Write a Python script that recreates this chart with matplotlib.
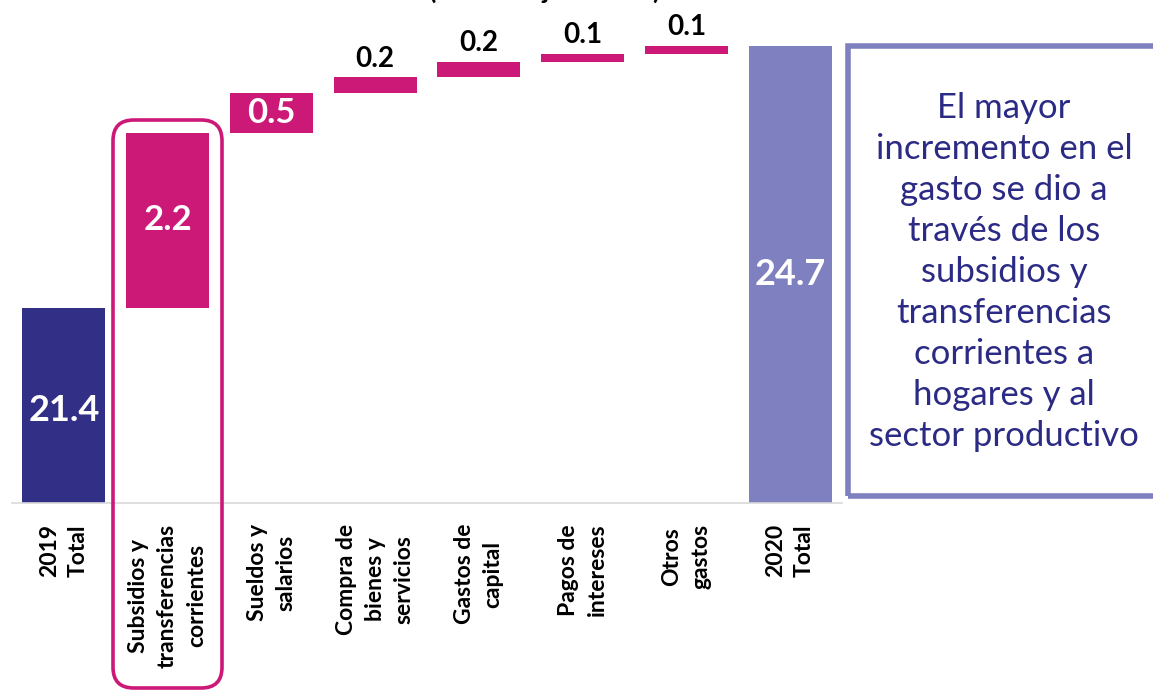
import matplotlib
matplotlib.use("Agg")
import matplotlib.pyplot as plt
from matplotlib.patches import FancyBboxPatch, Rectangle
import numpy as np

plt.rcParams['font.family'] = ['Lato', 'DejaVu Sans']

# data
categorias = ['2019\nTotal', 'Subsidios y\ntransferencias\ncorrientes', 'Sueldos y\nsalarios',
              'Compra de\nbienes y\nservicios', 'Gastos de\ncapital', 'Pagos de\nintereses',
              'Otros\ngastos', '2020\nTotal']
total_2019 = 21.4
incrementos = [2.2, 0.5, 0.2, 0.2, 0.1, 0.1]
total_2020 = 24.7

c_2019 = '#322F86'
c_inc = '#CC1977'
c_2020 = '#7F80C0'
c_txt = '#2B2A84'

W, H = 1153, 691
fig = plt.figure(figsize=(W / 100, H / 100), dpi=100)

def fx(px):
    return px / W

def fy(py):
    return 1 - py / H

ax = fig.add_axes([fx(12), fy(503), fx(830), 503 / H])
ymin, ymax = 18.94, 25.275
ax.set_xlim(-0.5, 7.5)
ax.set_ylim(ymin, ymax)

# waterfall bars
bottoms = total_2019 + np.concatenate([[0], np.cumsum(incrementos)[:-1]])
x = np.arange(len(categorias))
ax.bar(x[0], total_2019 - ymin, bottom=ymin, width=0.8, color=c_2019)
ax.bar(x[1:7], incrementos, bottom=bottoms, width=0.8, color=c_inc)
ax.bar(x[7], total_2020 - ymin, bottom=ymin, width=0.8, color=c_2020)

# value labels
ax.text(x[0], (ymin + total_2019) / 2 - 0.07, f'{total_2019:.1f}', ha='center', va='center',
        color='white', fontsize=26, fontweight='bold')
ax.text(x[7], (ymin + total_2020) / 2, f'{total_2020:.1f}', ha='center', va='center',
        color='white', fontsize=26, fontweight='bold')
for i, (v, b) in enumerate(zip(incrementos, bottoms)):
    if v >= 0.5:
        ax.text(x[i + 1], b + v / 2, f'{v:.1f}', ha='center', va='center',
                color='white', fontsize=25, fontweight='bold')
    else:
        ax.text(x[i + 1], b + v + 0.07, f'{v:.1f}', ha='center', va='bottom',
                color='black', fontsize=20, fontweight='bold')

for s in ax.spines.values():
    s.set_visible(False)
ax.spines['bottom'].set_visible(True)
ax.spines['bottom'].set_color('#D9D9D9')
ax.spines['bottom'].set_linewidth(1.2)
ax.set_yticks([])
ax.set_xticks(x)
ax.set_xticklabels(categorias, rotation=90, ha='center', va='top', multialignment='center',
                   fontsize=16.5, fontweight='bold', linespacing=1.45)
ax.tick_params(axis='x', length=0, pad=15)

# highlight around Subsidios
hl = FancyBboxPatch((fx(113), fy(688)), fx(109), (688 - 120) / H,
                    boxstyle='round,pad=0,rounding_size=0.018', transform=fig.transFigure,
                    fill=False, edgecolor=c_inc, linewidth=2.6, mutation_aspect=W / H)
fig.patches.append(hl)

# comment box
box = Rectangle((fx(848), fy(496)), fx(320), (496 - 46) / H, transform=fig.transFigure,
                fill=False, edgecolor=c_2020, linewidth=4)
fig.patches.append(box)
fig.text(fx(1004), fy(272), 'El mayor\nincremento en el\ngasto se dio a\ntravés de los\nsubsidios y\n'
         'transferencias\ncorrientes a\nhogares y al\nsector productivo',
         ha='center', va='center', color=c_txt, fontsize=25, linespacing=1.35)

# clipped subtitle at the top
fig.text(fx(545), 1.002, '(Porcentaje del PIB)', ha='center', va='baseline',
         fontsize=19, fontweight='bold', color='black')

fig.savefig('out.png', dpi=100)
